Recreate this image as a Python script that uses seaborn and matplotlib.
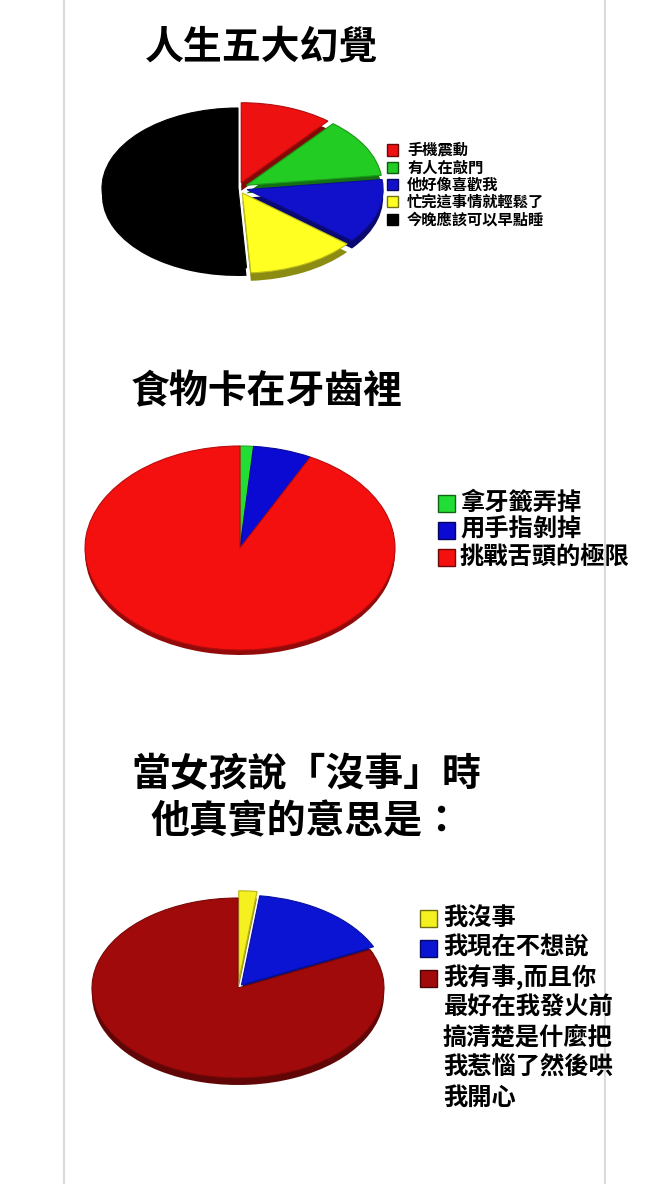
import matplotlib
matplotlib.use("Agg")
import matplotlib.pyplot as plt
from matplotlib.patches import Rectangle
from matplotlib.lines import Line2D
from matplotlib.colors import to_rgb
import seaborn as sns

# -----------------------------
# Data
# -----------------------------
title1 = "人生五大幻覺"
labels1 = ["手機震動", "有人在敲門", "他好像喜歡我", "忙完這事情就輕鬆了", "今晚應該可以早點睡"]
values1 = [11, 12, 13, 13, 51]
colors1 = ["#ee1111", "#22cc22", "#1111cc", "#ffff22", "#000000"]
explode1 = [0.07, 0.07, 0.07, 0.07, 0.0]

title2 = "食物卡在牙齒裡"
labels2 = ["拿牙籤弄掉", "用手指剝掉", "挑戰舌頭的極限"]
values2 = [1.4, 6.1, 92.5]
colors2 = ["#22dd33", "#0a0ad2", "#f51010"]
explode2 = [0.0, 0.0, 0.0]

title3 = "當女孩說「沒事」時\n他真實的意思是："
labels3 = ["我沒事", "我現在不想說", "我有事,而且你\n最好在我發火前\n搞清楚是什麼把\n我惹惱了然後哄\n我開心"]
values3 = [2.0, 16.0, 82.0]
colors3 = ["#f5f020", "#0a14d2", "#a00a0a"]
explode3 = [0.08, 0.04, 0.0]

W, H = 670, 1184

sns.set_theme(style="white")
plt.rcParams["font.family"] = ["Noto Sans CJK TC", "DejaVu Sans"]


def shade(c, f=0.55):
    r, g, b = to_rgb(c)
    return (r * f, g * f, b * f)


def draw_pie(fig, values, colors, explode, cx, cy, rx, ry, depth, rim=0.55):
    """Flattened pie with a darker copy underneath for the 3D rim"""
    pad = 1.2
    d = depth / ry
    top = cy - pad * ry
    bottom = cy + pad * ry + depth
    ax = fig.add_axes([(cx - pad * rx) / W, 1 - bottom / H, 2 * pad * rx / W, (bottom - top) / H])
    ax.pie(values, colors=[shade(c, rim) for c in colors], explode=explode,
           startangle=90, counterclock=False, center=(0, -d),
           wedgeprops=dict(linewidth=0))
    wedges, _ = ax.pie(values, colors=colors, explode=explode,
                       startangle=90, counterclock=False,
                       wedgeprops=dict(linewidth=0.8))
    for w, c in zip(wedges, colors):
        w.set_edgecolor(shade(c, 0.75))
    ax.set_aspect("auto")
    ax.set_xlim(-pad, pad)
    ax.set_ylim(-pad - d, pad)
    ax.axis("off")
    return ax


def draw_legend(fig, labels, colors, x, y, size, box, pitch, line_pitch, gap):
    # y is the centre of the first row, pixels from the top
    for lab, col in zip(labels, colors):
        lines = lab.split("\n")
        fig.add_artist(Rectangle((x / W, 1 - (y + box / 2) / H), box / W, box / H,
                                 transform=fig.transFigure, facecolor=col,
                                 edgecolor=shade(col, 0.45), linewidth=1))
        for k, line in enumerate(lines):
            fig.text((x + box + gap) / W, 1 - (y + k * line_pitch) / H, line,
                     fontsize=size, fontweight="bold", color="black",
                     ha="left", va="center")
        y += pitch + (len(lines) - 1) * line_pitch


fig = plt.figure(figsize=(W / 100, H / 100), dpi=100)
fig.patch.set_facecolor("white")

# frame lines on both sides
for xl in (64, 605):
    fig.add_artist(Line2D([xl / W, xl / W], [0, 1], color="#dadada", linewidth=1.5))

title_kw = dict(fontsize=28, fontweight="heavy", color="black", ha="center", va="center")

# -----------------------------
# Chart 1
# -----------------------------
fig.text(262 / W, 1 - 47 / H, title1, **title_kw)
draw_pie(fig, values1, colors1, explode1, 238, 188, 136, 80, 8)
draw_legend(fig, labels1, colors1, 387, 150, 11, 11, 17.3, 0, 9)

# -----------------------------
# Chart 2
# -----------------------------
fig.text(267 / W, 1 - 392 / H, title2, **title_kw)
draw_pie(fig, values2, colors2, explode2, 240, 548, 155, 102, 5, rim=0.6)
draw_legend(fig, labels2, colors2, 438, 503, 17.5, 17, 27, 0, 5)

# -----------------------------
# Chart 3
# -----------------------------
fig.text(306 / W, 1 - 798 / H, title3, linespacing=1.25, **title_kw)
draw_pie(fig, values3, colors3, explode3, 238, 988, 146, 90, 7, rim=0.6)
draw_legend(fig, labels3, colors3, 420, 918, 17.5, 17, 30, 30, 6)

fig.savefig("out.png", dpi=100, facecolor="white")
